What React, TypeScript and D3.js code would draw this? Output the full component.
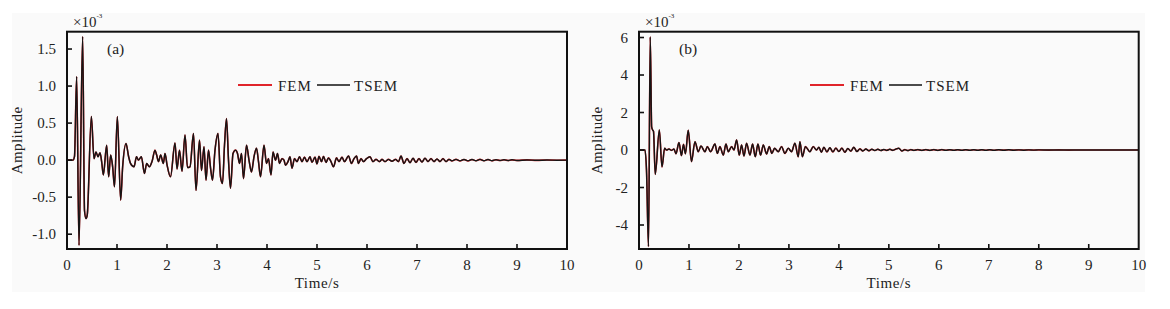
import React from "react";
import * as d3 from "d3";

// ---------- data ----------
const timeTicks = [0, 1, 2, 3, 4, 5, 6, 7, 8, 9, 10];
const ampTicksA = [-1.0, -0.5, 0.0, 0.5, 1.0, 1.5];
const ampTicksB = [-4, -2, 0, 2, 4, 6];
const legendNames = ["FEM", "TSEM"];

// panel (a): [time s, amplitude x1e-3]
const waveA: [number, number][] = [
  [0, 0], [0.12, 0], [0.15, 0.05], [0.193, 1.13], [0.24, -1.15], [0.313, 1.67],
  [0.35, -0.68], [0.38, -0.79], [0.405, -0.74], [0.487, 0.59], [0.54, 0.02],
  [0.58, 0.11], [0.62, 0.045], [0.66, 0.1], [0.693, -0.02], [0.727, -0.2],
  [0.793, 0.2], [0.833, -0.225], [0.873, 0.068], [0.913, -0.09], [0.95, -0.36],
  [1.007, 0.59], [1.073, -0.54], [1.113, -0.09], [1.18, 0.225], [1.233, 0.045],
  [1.27, -0.045], [1.34, -0.09], [1.39, 0.045], [1.43, 0], [1.487, 0.045],
  [1.55, -0.18], [1.593, -0.045], [1.647, -0.09], [1.7, -0.02], [1.76, 0.135],
  [1.793, 0.068], [1.83, -0.02], [1.873, 0.068], [1.927, -0.045], [1.96, 0.09],
  [2.0, -0.06], [2.07, -0.225], [2.16, 0.23], [2.2, -0.12], [2.25, 0.135],
  [2.3, -0.15], [2.36, 0.34], [2.41, -0.1], [2.46, -0.09], [2.53, 0.36],
  [2.58, -0.41], [2.65, 0.27], [2.69, -0.14], [2.74, 0.18], [2.78, -0.27],
  [2.83, 0.135], [2.87, -0.1], [2.91, -0.27], [2.96, 0.135], [3.02, 0.36],
  [3.07, -0.225], [3.11, -0.315], [3.15, 0.2], [3.19, 0.56], [3.23, 0],
  [3.27, -0.38], [3.32, 0.09], [3.37, 0.135], [3.41, 0.09], [3.45, -0.045],
  [3.49, 0.09], [3.53, -0.25], [3.59, 0.2], [3.64, 0], [3.69, -0.16],
  [3.74, 0.045], [3.79, 0.16], [3.83, -0.02], [3.87, -0.225], [3.94, 0.2],
  [3.99, -0.045], [4.03, 0.02], [4.08, -0.2], [4.12, 0.11], [4.17, 0],
  [4.21, 0.09], [4.25, -0.045], [4.3, 0.02], [4.34, 0], [4.37, -0.07],
  [4.42, -0.02], [4.46, 0.045], [4.5, -0.11], [4.55, 0.02], [4.6, -0.02],
  [4.65, 0.045], [4.7, -0.02], [4.75, 0.04], [4.8, -0.02], [4.86, 0.045],
  [4.9, -0.03], [4.96, 0.04], [5.0, -0.05], [5.04, 0.05], [5.09, -0.02],
  [5.13, 0.05], [5.18, -0.03], [5.23, 0.03], [5.28, -0.02], [5.33, -0.09],
  [5.39, 0.03], [5.44, -0.02], [5.5, 0.04], [5.55, -0.02], [5.63, 0.055],
  [5.69, -0.045], [5.74, 0.02], [5.79, 0.055], [5.83, -0.045], [5.88, 0.02],
  [5.93, -0.02], [5.99, 0.02], [6.06, 0.045], [6.12, -0.02], [6.18, 0.01],
  [6.25, -0.02], [6.3, 0.01], [6.36, -0.02], [6.43, 0.01], [6.5, -0.015],
  [6.57, 0.01], [6.63, -0.02], [6.68, 0.055], [6.74, -0.045], [6.8, 0.02],
  [6.86, -0.035], [6.92, 0.025], [6.98, -0.03], [7.04, 0.02], [7.1, -0.025],
  [7.16, 0.025], [7.22, -0.02], [7.28, 0.02], [7.34, -0.02], [7.4, 0.015],
  [7.46, -0.02], [7.52, 0.02], [7.58, -0.02], [7.64, 0.01], [7.7, -0.01],
  [7.78, 0.01], [7.86, -0.01], [7.94, 0.008], [8.02, -0.01], [8.1, 0.008],
  [8.18, -0.008], [8.26, 0.01], [8.34, -0.008], [8.42, 0.008], [8.5, -0.008],
  [8.58, 0.006], [8.66, -0.006], [8.74, 0.005], [8.82, -0.005], [8.9, 0.004],
  [9.0, -0.004], [9.2, 0.003], [9.4, -0.003], [9.6, 0.002], [9.8, -0.002], [10, 0],
];

// panel (b): [time s, amplitude x1e-3]
const waveB: [number, number][] = [
  [0, 0], [0.12, 0], [0.15, -1.07], [0.19, -5.15], [0.225, 6.04], [0.253, 1.24],
  [0.273, 1.07], [0.29, 1.0], [0.325, -1.3], [0.407, 1.07], [0.46, -0.9],
  [0.513, 0.09], [0.55, 0.0], [0.6, 0.05], [0.65, -0.02], [0.7, 0.05],
  [0.74, -0.2], [0.8, 0.4], [0.85, -0.3], [0.89, 0.3], [0.93, -0.2],
  [0.985, 1.05], [1.05, -0.62], [1.12, 0.44], [1.187, -0.09], [1.24, 0.21],
  [1.32, -0.09], [1.367, 0.18], [1.433, -0.09], [1.52, 0.32], [1.567, -0.18],
  [1.62, 0.18], [1.687, -0.27], [1.74, 0.32], [1.787, -0.09], [1.853, 0.18],
  [1.9, 0], [1.953, 0.53], [2.007, -0.27], [2.053, 0.27], [2.1, -0.32],
  [2.153, 0.36], [2.22, -0.27], [2.273, 0.32], [2.327, -0.36], [2.38, 0.32],
  [2.433, -0.27], [2.487, 0.27], [2.553, -0.21], [2.607, 0.18], [2.66, -0.18],
  [2.713, 0.09], [2.787, -0.09], [2.853, 0.18], [2.92, -0.18], [2.987, 0.09],
  [3.053, -0.09], [3.12, 0.36], [3.187, -0.36], [3.22, 0.44], [3.27, -0.36],
  [3.33, 0.18], [3.42, -0.09], [3.487, 0.18], [3.553, 0], [3.6, 0.15],
  [3.65, -0.12], [3.7, 0.15], [3.76, -0.1], [3.82, 0.12], [3.88, -0.1],
  [3.94, 0.1], [4.0, -0.08], [4.06, 0.1], [4.12, -0.12], [4.18, 0.08],
  [4.24, -0.06], [4.3, 0.15], [4.36, -0.08], [4.42, 0.06], [4.48, -0.05],
  [4.54, 0.05], [4.6, -0.04], [4.66, 0.04], [4.72, -0.03], [4.78, 0.04],
  [4.84, -0.03], [4.9, 0.03], [4.96, -0.02], [5.02, 0.04], [5.08, -0.02],
  [5.14, 0.05], [5.2, 0.09], [5.26, -0.05], [5.32, 0.02], [5.38, -0.03],
  [5.44, 0.02], [5.5, -0.02], [5.58, 0.02], [5.66, -0.02], [5.74, 0.02],
  [5.82, -0.02], [5.9, 0.02], [5.98, -0.02], [6.06, 0.02], [6.14, -0.015],
  [6.22, 0.015], [6.3, -0.015], [6.38, 0.015], [6.46, -0.015], [6.54, 0.015],
  [6.62, -0.012], [6.7, 0.012], [6.78, -0.012], [6.86, 0.01], [6.94, -0.01],
  [7.02, 0.012], [7.1, -0.01], [7.2, 0.01], [7.3, -0.008], [7.4, 0.01],
  [7.5, -0.008], [7.6, 0.008], [7.7, -0.008], [7.8, 0.006], [7.9, -0.006],
  [8.0, 0.006], [8.2, -0.005], [8.4, 0.005], [8.6, -0.004], [8.8, 0.004],
  [9.0, -0.003], [9.4, 0.002], [9.8, -0.002], [10, 0],
];

// ---------- drawing ----------
const FONT = "'Liberation Serif', 'Times New Roman', serif";

type PanelProps = {
  left: number;
  right: number;
  top: number;
  bottom: number;
  yDomain: [number, number];
  yTicks: number[];
  fmt: (v: number) => string;
  wave: [number, number][];
  tag: string;
  tagX: number;
  legendX: number;
  ampLabelX: number;
};

function Panel(p: PanelProps) {
  const x = d3.scaleLinear().domain([0, 10]).range([p.left, p.right]);
  const y = d3.scaleLinear().domain(p.yDomain).range([p.bottom, p.top]);
  const line = d3
    .line<[number, number]>()
    .x((d) => x(d[0]))
    .y((d) => y(d[1]))
    .curve(d3.curveMonotoneX);
  const path = line(p.wave) || "";
  const midY = (p.top + p.bottom) / 2;
  const lx = p.legendX;
  return (
    <g>
      {/* waveforms: FEM (red) under TSEM (black) */}
      <path d={path} fill="none" stroke="#e0242a" strokeWidth={1.6} />
      <path d={path} fill="none" stroke="#151515" strokeWidth={1.45} strokeLinejoin="round" />
      {/* frame */}
      <rect
        x={p.left}
        y={p.top}
        width={p.right - p.left}
        height={p.bottom - p.top}
        fill="none"
        stroke="#111"
        strokeWidth={2}
      />
      {/* x ticks */}
      {timeTicks.map((t) => (
        <g key={"xt" + t}>
          {t > 0 && t < 10 && (
            <line x1={x(t)} x2={x(t)} y1={p.bottom} y2={p.bottom - 5} stroke="#111" strokeWidth={1.6} />
          )}
          <text x={x(t)} y={270} textAnchor="middle" fontFamily={FONT} fontSize={15} fill="#222">
            {t}
          </text>
        </g>
      ))}
      {/* y ticks */}
      {p.yTicks.map((v) => (
        <g key={"yt" + v}>
          <line x1={p.left} x2={p.left + 5} y1={y(v)} y2={y(v)} stroke="#111" strokeWidth={1.6} />
          <text
            x={p.left - 11}
            y={y(v) + 5}
            textAnchor="end"
            fontFamily={FONT}
            fontSize={15}
            fill="#222"
          >
            {p.fmt(v)}
          </text>
        </g>
      ))}
      {/* axis titles */}
      <text
        x={(p.left + p.right) / 2}
        y={288}
        textAnchor="middle"
        fontFamily={FONT}
        fontSize={15}
        letterSpacing={0.6}
        fill="#222"
      >
        Time/s
      </text>
      <text
        transform={`translate(${p.ampLabelX},${midY}) rotate(-90)`}
        textAnchor="middle"
        fontFamily={FONT}
        fontSize={15}
        letterSpacing={0.4}
        fill="#222"
      >
        Amplitude
      </text>
      {/* exponent */}
      <text x={p.left + 6} y={27} fontFamily={FONT} fontSize={15} fill="#222">
        ×10
        <tspan fontSize={7} dy={-9}>
          -3
        </tspan>
      </text>
      {/* panel tag */}
      <text x={p.tagX} y={54} fontFamily={FONT} fontSize={15.5} fill="#222">
        {p.tag}
      </text>
      {/* legend */}
      <line x1={lx} x2={lx + 34} y1={85} y2={85} stroke="#e0242a" strokeWidth={1.8} />
      <text x={lx + 40} y={90.5} fontFamily={FONT} fontSize={15} letterSpacing={1} fill="#222">
        {legendNames[0]}
      </text>
      <line x1={lx + 79} x2={lx + 112} y1={85} y2={85} stroke="#111" strokeWidth={1.6} />
      <text x={lx + 116} y={90.5} fontFamily={FONT} fontSize={15} letterSpacing={1} fill="#222">
        {legendNames[1]}
      </text>
    </g>
  );
}

export default function App() {
  return (
    <svg
      width={1170}
      height={309}
      style={{ position: "absolute", left: 0, top: 0, background: "#fff" }}
    >
      <rect x={12} y={13} width={1133} height={279} fill="#fafafa" />
      <Panel
        left={67}
        right={567}
        top={31.7}
        bottom={249}
        yDomain={[-1.2, 1.734]}
        yTicks={ampTicksA}
        fmt={(v) => v.toFixed(1)}
        wave={waveA}
        tag="(a)"
        tagX={107}
        legendX={238}
        ampLabelX={22}
      />
      <Panel
        left={639}
        right={1138.7}
        top={31.7}
        bottom={249}
        yDomain={[-5.28, 6.31]}
        yTicks={ampTicksB}
        fmt={(v) => String(v)}
        wave={waveB}
        tag="(b)"
        tagX={679}
        legendX={810}
        ampLabelX={602}
      />
    </svg>
  );
}
